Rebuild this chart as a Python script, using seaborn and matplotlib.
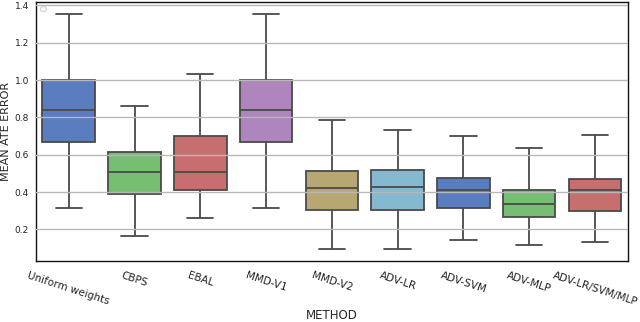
import numpy as np
import pandas as pd
import matplotlib
matplotlib.use("Agg")
import matplotlib.pyplot as plt
import seaborn as sns

# five-number summaries: whisker low, Q1, median, Q3, whisker high
methods = ["Uniform weights", "CBPS", "EBAL", "MMD-V1", "MMD-V2",
           "ADV-LR", "ADV-SVM", "ADV-MLP", "ADV-LR/SVM/MLP"]
whisker_low = [0.316, 0.166, 0.259, 0.316, 0.096, 0.096, 0.143, 0.118, 0.134]
q1 = [0.666, 0.391, 0.411, 0.666, 0.304, 0.304, 0.316, 0.266, 0.298]
median = [0.838, 0.509, 0.509, 0.838, 0.420, 0.429, 0.411, 0.334, 0.411]
q3 = [1.000, 0.616, 0.702, 1.000, 0.513, 0.518, 0.477, 0.412, 0.471]
whisker_high = [1.355, 0.861, 1.030, 1.355, 0.786, 0.732, 0.702, 0.636, 0.705]

y_ticks = [0.2, 0.4, 0.6, 0.8, 1.0, 1.2, 1.4]

muted_old = ["#4878CF", "#6ACC65", "#D65F5F", "#B47CC7", "#C4AD66", "#77BEDB"]
palette = [muted_old[i % 6] for i in range(len(methods))]

# five points per method reproduce the quartiles exactly (linear percentiles)
rows = []
for i, m in enumerate(methods):
    for v in (whisker_low[i], q1[i], median[i], q3[i], whisker_high[i]):
        rows.append({"METHOD": m, "MEAN ATE ERROR": v})
df = pd.DataFrame(rows)

sns.set_style("white")
plt.rcParams["font.family"] = ["DejaVu Sans"]

fig = plt.figure(figsize=(6.4, 3.22), dpi=100)
ax = fig.add_axes([0.056, 0.189, 0.925, 0.806])

sns.boxplot(data=df, x="METHOD", y="MEAN ATE ERROR", hue="METHOD",
            palette=palette, order=methods, hue_order=methods,
            whis=(0, 100), width=0.8, saturation=0.75, legend=False,
            linecolor="#4a4a4a", linewidth=1.3, ax=ax)

ax.set_ylim(0.03, 1.42)
ax.set_yticks(y_ticks)
ax.set_yticklabels([f"{t:.1f}" for t in y_ticks], fontsize=6.5)
ax.grid(axis="y", color="#b8b8b8", linewidth=1.0)
ax.set_axisbelow(False)

ax.tick_params(axis="both", length=3, width=0.8, color="#333333", labelcolor="#222222")
ax.tick_params(axis="y", pad=2)
plt.setp(ax.get_xticklabels(), rotation=-18, ha="center", rotation_mode="default", fontsize=7.5)
ax.set_xlabel("METHOD", fontsize=8.5)
ax.set_ylabel("MEAN ATE ERROR", fontsize=8)
ax.xaxis.set_label_coords(0.5, -0.185)
ax.yaxis.set_label_coords(-0.042, 0.5)

for s in ax.spines.values():
    s.set_visible(True)
    s.set_color("#111111")
    s.set_linewidth(1.0)

ax.legend(handles=[], loc="upper left", frameon=True, borderpad=0.2, borderaxespad=0.3)

fig.savefig("out.png", dpi=100)
